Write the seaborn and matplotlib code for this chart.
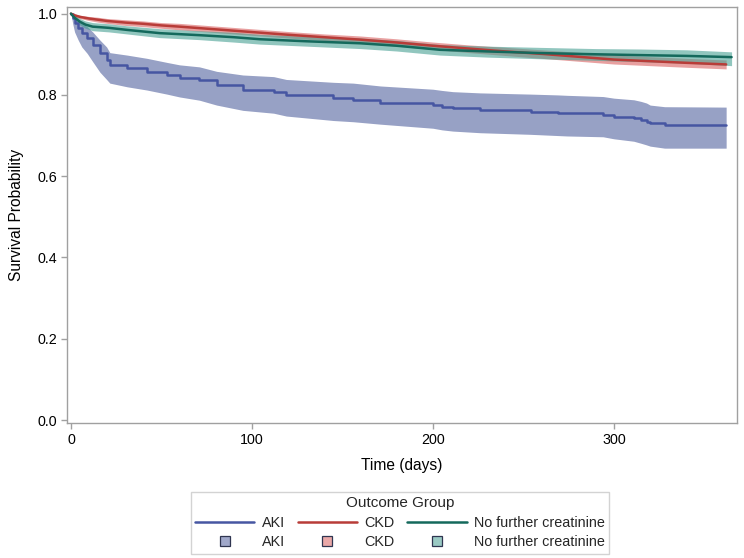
import numpy as np
import pandas as pd
import matplotlib
matplotlib.use("Agg")
import matplotlib.pyplot as plt
from matplotlib.lines import Line2D
import seaborn as sns

# ---------------- data ----------------
groups = ["AKI", "CKD", "No further creatinine"]

aki_time = [0, 1, 2, 4, 6, 9, 12, 16, 19.7, 21.5, 31, 42, 53, 60, 71, 80.5, 95, 112, 119, 145, 156,
            171, 200, 205, 211, 226, 254, 269, 274, 294, 300, 311, 315, 318, 320, 328, 362]
aki_surv = [1.0, 0.99, 0.978, 0.964, 0.952, 0.94, 0.923, 0.902, 0.886, 0.874, 0.866, 0.857, 0.849, 0.841,
            0.837, 0.825, 0.812, 0.808, 0.80, 0.792, 0.788, 0.781, 0.775, 0.771, 0.767, 0.763, 0.759,
            0.756, 0.755, 0.751, 0.746, 0.743, 0.738, 0.734, 0.730, 0.726, 0.726]
aki_lower = [1.0, 0.975, 0.955, 0.935, 0.918, 0.902, 0.882, 0.856, 0.838, 0.829, 0.820, 0.812, 0.802, 0.795,
             0.787, 0.775, 0.762, 0.755, 0.748, 0.737, 0.734, 0.728, 0.718, 0.714, 0.711, 0.707, 0.703,
             0.700, 0.699, 0.697, 0.692, 0.686, 0.681, 0.677, 0.674, 0.669, 0.669]
aki_upper = [1.0, 1.0, 0.995, 0.985, 0.976, 0.968, 0.955, 0.935, 0.918, 0.904, 0.898, 0.890, 0.880, 0.874,
             0.869, 0.858, 0.849, 0.845, 0.838, 0.831, 0.829, 0.822, 0.814, 0.811, 0.808, 0.805, 0.802,
             0.800, 0.799, 0.796, 0.792, 0.788, 0.784, 0.780, 0.775, 0.771, 0.770]

ckd_time = [0, 2, 5, 10, 15, 20, 30, 40, 50, 60, 75, 90, 105, 120, 140, 160, 180, 200, 220, 240, 260,
            280, 300, 320, 340, 362]
ckd_surv = [1.0, 0.996, 0.992, 0.988, 0.985, 0.982, 0.978, 0.975, 0.971, 0.968, 0.963, 0.958, 0.953, 0.948,
            0.942, 0.936, 0.929, 0.921, 0.914, 0.907, 0.901, 0.894, 0.887, 0.883, 0.879, 0.875]
ckd_lower = [1.0, 0.993, 0.988, 0.983, 0.979, 0.976, 0.971, 0.968, 0.964, 0.960, 0.955, 0.950, 0.945, 0.940,
             0.934, 0.927, 0.920, 0.912, 0.904, 0.897, 0.890, 0.883, 0.876, 0.872, 0.868, 0.864]
ckd_upper = [1.0, 0.999, 0.996, 0.993, 0.991, 0.988, 0.985, 0.982, 0.978, 0.976, 0.971, 0.966, 0.961, 0.956,
             0.950, 0.945, 0.938, 0.930, 0.923, 0.917, 0.911, 0.905, 0.898, 0.894, 0.890, 0.886]

nfc_time = [0, 2, 5, 8, 12, 21, 31, 49, 71, 90, 104.5, 130, 160, 180, 204, 230, 259, 290, 314, 340, 365]
nfc_surv = [1.0, 0.99, 0.98, 0.973, 0.968, 0.965, 0.960, 0.952, 0.947, 0.942, 0.937, 0.932, 0.927, 0.921,
            0.911, 0.907, 0.903, 0.900, 0.898, 0.896, 0.893]
nfc_lower = [1.0, 0.984, 0.972, 0.964, 0.958, 0.955, 0.950, 0.941, 0.936, 0.930, 0.925, 0.920, 0.914, 0.908,
             0.898, 0.893, 0.889, 0.885, 0.882, 0.878, 0.872]
nfc_upper = [1.0, 0.996, 0.988, 0.982, 0.978, 0.975, 0.970, 0.963, 0.958, 0.954, 0.949, 0.944, 0.940, 0.934,
             0.924, 0.920, 0.917, 0.914, 0.913, 0.911, 0.906]

x_ticks = [0, 100, 200, 300]
y_ticks = [0.0, 0.2, 0.4, 0.6, 0.8, 1.0]

line_colors = ["#4656A2", "#B83C38", "#14695C"]
fill_colors = ["#52629F", "#D96161", "#48A094"]
line_styles = ["steps-post", "default", "default"]

# ---------------- figure ----------------
sns.set_theme(style="white")
plt.rcParams["font.family"] = ["Liberation Sans", "DejaVu Sans"]

fig = plt.figure(figsize=(7.44, 5.58), dpi=100)
ax = fig.add_axes([0.090, 0.2414, 0.9006, 0.7456])

series = [
    (aki_time, aki_surv, aki_lower, aki_upper),
    (ckd_time, ckd_surv, ckd_lower, ckd_upper),
    (nfc_time, nfc_surv, nfc_lower, nfc_upper),
]

# confidence bands (drawn first)
for (t, s, lo, up), fc in zip(series, fill_colors):
    ax.fill_between(t, lo, up, color=fc, alpha=0.6, linewidth=0, zorder=1)

for g, (t, s, lo, up), lc, ds in zip(groups, series, line_colors, line_styles):
    d = pd.DataFrame({"time": t, "surv": s})
    sns.lineplot(data=d, x="time", y="surv", color=lc, estimator=None, sort=False,
                 drawstyle=ds, linewidth=1.8, legend=False, ax=ax, zorder=3)

ax.set_xlim(-2.2, 368)
ax.set_ylim(-0.008, 1.0157)
ax.set_xticks(x_ticks)
ax.set_yticks(y_ticks)
ax.set_yticklabels([f"{v:.1f}" for v in y_ticks])
ax.set_xlabel("Time (days)", fontsize=11.2, color="#000000", labelpad=8)
ax.set_ylabel("Survival Probability", fontsize=11.2, color="#000000", labelpad=10)

for sp in ax.spines.values():
    sp.set_color("#A0A0A0")
    sp.set_linewidth(1.0)
ax.tick_params(axis="both", which="major", direction="out", length=4, width=1,
               color="#A0A0A0", labelsize=10.3, labelcolor="#000000", pad=3)
ax.tick_params(axis="both", bottom=True, left=True)
ax.grid(False)

# legend
handles = []
labels = []
for g, lc, fc in zip(groups, line_colors, fill_colors):
    handles.append(Line2D([0], [0], color=lc, linewidth=1.8))
    labels.append(g)
    handles.append(Line2D([0], [0], linestyle="none", marker="s", markersize=7.5,
                          markerfacecolor=matplotlib.colors.to_rgba(fc, 0.55),
                          markeredgecolor="#2F3550", markeredgewidth=0.9))
    labels.append(g)

leg = fig.legend(handles, labels, ncol=3, loc="upper center",
                 bbox_to_anchor=(0.5376, 0.1183), borderaxespad=0.0,
                 title="Outcome Group",
                 fontsize=10.4, title_fontsize=11, frameon=True, fancybox=False,
                 handlelength=4.1, handletextpad=0.5, columnspacing=0.9,
                 labelspacing=0.38, borderpad=0.3)
leg.get_frame().set_edgecolor("#C8C8C8")
leg.get_frame().set_linewidth(1.0)

fig.savefig("out.png", dpi=100)
